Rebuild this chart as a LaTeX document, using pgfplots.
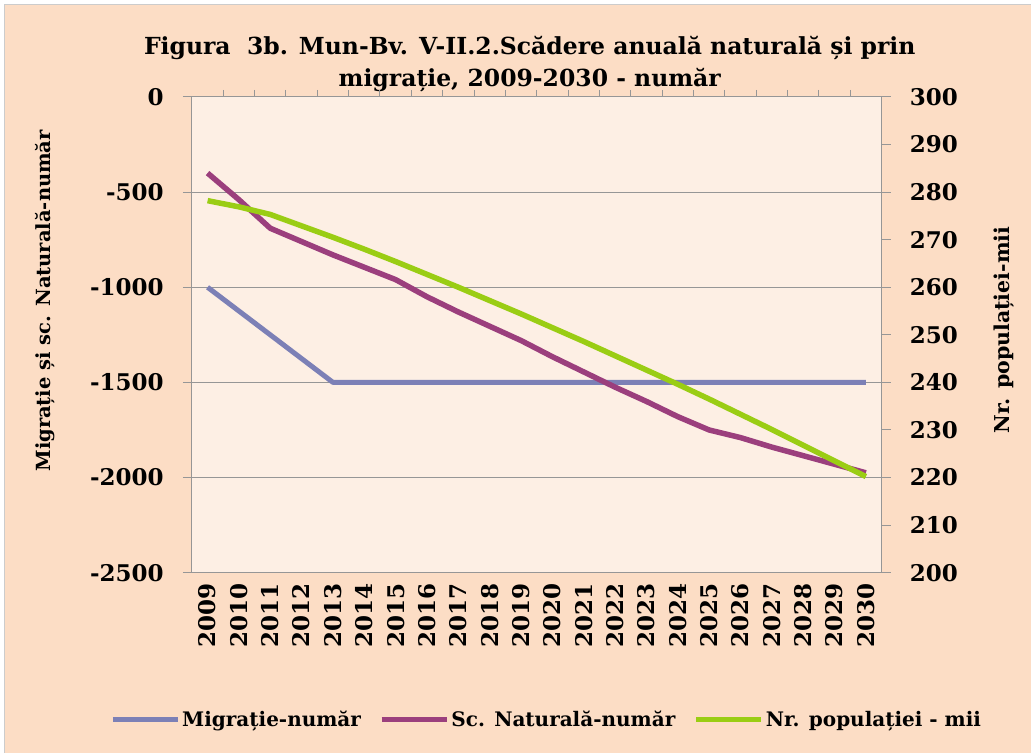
\documentclass[border=0pt]{standalone}
\usepackage{pgfplots}
\pgfplotsset{compat=1.18}
\usepackage{fontspec}
\setmainfont{DejaVu Serif}
\definecolor{bgout}{RGB}{252,221,197}
\definecolor{bgin}{RGB}{253,239,228}
\definecolor{cmig}{RGB}{124,128,182}
\definecolor{cnat}{RGB}{155,63,125}
\definecolor{cpop}{RGB}{154,205,20}
\definecolor{axgray}{RGB}{150,150,150}
\begin{document}
\begin{tikzpicture}[x=1pt,y=1pt]
\fill[white] (0,0) rectangle (1031,753);
\fill[bgout] (5,0) rectangle (1031,748);
\draw[gray!40, line width=1pt] (5,0) -- (5,748) -- (1031,748);
\node[font=\bfseries\fontsize{23.5}{32}\selectfont, align=center] at (530,689)
  {Figura~~3b. Mun-Bv. V-II.2.Scădere anuală naturală și prin\\migrație, 2009-2030 - număr};
\node[font=\bfseries\fontsize{19.5}{22}\selectfont, rotate=90] at (45,452) {Migrație și sc. Naturală-număr};
\node[font=\bfseries\fontsize{20.5}{22}\selectfont, rotate=90] at (1005,423) {Nr. populației-mii};
\begin{axis}[
  at={(192pt,180pt)}, anchor=south west,
  scale only axis, width=690pt, height=476pt,
  xmin=-0.5, xmax=21.5, ymin=-2500, ymax=0,
  axis background/.style={fill=bgin},
  axis line style={axgray, line width=1pt},
  axis y line*=left, axis x line*=box,
  xtick={0,...,21},
  xticklabels={2009,2010,2011,2012,2013,2014,2015,2016,2017,2018,2019,2020,2021,2022,2023,2024,2025,2026,2027,2028,2029,2030},
  xtick pos=upper, xticklabel pos=lower,
  major x tick style={draw=none},
  minor xtick={0.5,1.5,...,20.5},
  minor x tick style={axgray, line width=1pt},
  minor tick length=7pt,
  xticklabel style={rotate=90, anchor=east, font=\bfseries\fontsize{23}{24}\selectfont, inner sep=2pt},
  ytick={-2500,-2000,-1500,-1000,-500,0},
  yticklabels={-2500,-2000,-1500,-1000,-500,0},
  yticklabel style={font=\bfseries\fontsize{23}{24}\selectfont, inner sep=4pt, xshift=-15pt},
  ytick style={axgray, line width=1pt},
  major tick length=9pt,
  tick align=outside,
  ymajorgrids, grid style={axgray, line width=1pt},
  legend columns=3,
  legend style={at={(-0.123,-0.309)}, anchor=west, draw=none, fill=none,
    font=\bfseries\fontsize{20}{22}\selectfont,
    /tikz/every even column/.append style={column sep=16pt}},
  legend image code/.code={\draw[#1] (0pt,0pt) -- (65pt,0pt);},
]
\addplot[cmig, line width=5pt, line join=round] coordinates {
(0,-1000)(1,-1125)(2,-1250)(3,-1375)(4,-1500)(5,-1500)(6,-1500)(7,-1500)(8,-1500)(9,-1500)(10,-1500)(11,-1500)(12,-1500)(13,-1500)(14,-1500)(15,-1500)(16,-1500)(17,-1500)(18,-1500)(19,-1500)(20,-1500)(21,-1500)};
\addlegendentry{Migrație-număr}
\addplot[cnat, line width=5.5pt, line join=round] coordinates {
(0,-400)(1,-540)(2,-690)(3,-760)(4,-830)(5,-895)(6,-960)(7,-1050)(8,-1130)(9,-1205)(10,-1280)(11,-1365)(12,-1445)(13,-1525)(14,-1600)(15,-1680)(16,-1750)(17,-1790)(18,-1840)(19,-1885)(20,-1930)(21,-1975)};
\addlegendentry{Sc. Naturală-număr}
\addlegendimage{cpop, line width=5.5pt}
\addlegendentry{Nr. populației - mii}
\end{axis}
\begin{axis}[
  at={(192pt,180pt)}, anchor=south west,
  scale only axis, width=690pt, height=476pt,
  xmin=-0.5, xmax=21.5, ymin=200, ymax=300,
  axis x line=none,
  axis y line*=right,
  axis line style={axgray, line width=1pt},
  ytick={200,210,...,300},
  yticklabel style={font=\bfseries\fontsize{23}{24}\selectfont, inner sep=4pt, xshift=15pt},
  /pgf/number format/assume math mode=true,
  ytick style={axgray, line width=1pt},
  major tick length=9pt,
  tick align=outside,
]
\addplot[cpop, line width=5.5pt, line join=round] coordinates {
(0,278.2)(1,276.9)(2,275.3)(3,272.9)(4,270.5)(5,268.0)(6,265.4)(7,262.7)(8,260.0)(9,257.2)(10,254.4)(11,251.5)(12,248.6)(13,245.6)(14,242.6)(15,239.6)(16,236.5)(17,233.3)(18,230.1)(19,226.8)(20,223.5)(21,220.2)};
\end{axis}
\end{tikzpicture}
\end{document}
